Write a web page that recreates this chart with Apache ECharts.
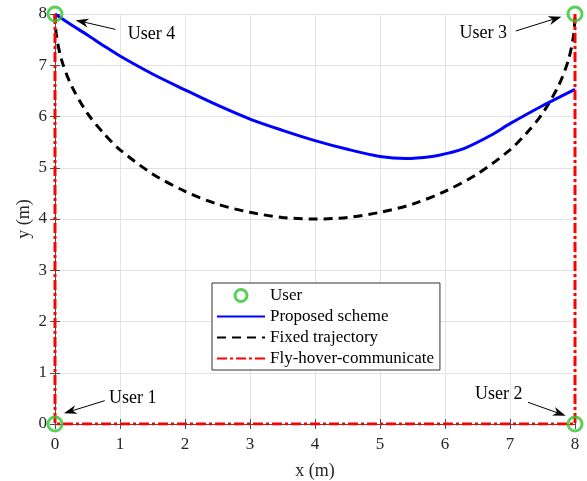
<!DOCTYPE html>
<html><head><meta charset="utf-8">
<script src="https://cdn.jsdelivr.net/npm/echarts@6/dist/echarts.min.js"></script>
<style>html,body{margin:0;padding:0;background:#fff}#c{width:587px;height:481px}</style>
</head><body><div id="c"></div>
<script>
// ---- data ----
const userX = [0, 8, 8, 0];
const userY = [0, 0, 8, 8];

const propX = [0, 0.25, 0.5, 0.75, 1, 1.5, 2, 2.5, 3, 3.5, 4, 4.5, 5, 5.4, 5.8, 6, 6.3, 6.7, 7, 7.5, 8];
const propY = [8, 7.79, 7.59, 7.38, 7.18, 6.83, 6.52, 6.22, 5.95, 5.73, 5.53, 5.36, 5.22, 5.18, 5.22, 5.27, 5.38, 5.63, 5.86, 6.21, 6.53];

const fixedX = [0, 0.02, 0.1, 0.25, 0.5, 0.75, 1, 1.5, 2, 2.5, 3, 3.5, 4, 4.5, 5, 5.5, 6, 6.5, 7, 7.25, 7.5, 7.75, 7.9, 7.98, 8];
const fixedY = [8, 7.60, 7.11, 6.61, 6.06, 5.67, 5.35, 4.88, 4.54, 4.29, 4.13, 4.03, 4.00, 4.03, 4.13, 4.29, 4.54, 4.88, 5.35, 5.67, 6.06, 6.61, 7.11, 7.60, 8];

const fhcX = [0, 0, 8, 8];
const fhcY = [8, 0, 0, 8];

const xTicks = [0, 1, 2, 3, 4, 5, 6, 7, 8];
const yTicks = [0, 1, 2, 3, 4, 5, 6, 7, 8];

const seriesNames = ['User', 'Proposed scheme', 'Fixed trajectory', 'Fly-hover-communicate'];

// annotation labels (data coordinates)
const annText = ['User 1', 'User 2', 'User 3', 'User 4'];
const annTextX = [0.831, 7.191, 6.954, 1.118];
const annTextY = [0.511, 0.576, 7.616, 7.60];
const annAlign = ['left', 'right', 'right', 'left'];
const annTailX = [0.765, 7.277, 7.088, 0.929];
const annTailY = [0.455, 0.423, 7.668, 7.70];
const annHeadX = [0.138, 7.857, 7.791, 0.318];
const annHeadY = [0.209, 0.162, 7.947, 7.88];

// ---- chart ----
const FONT = '"Liberation Serif", "Times New Roman", serif';
const TXT = '#262626';
const GREEN = '#2fc62f';
const zip = (a, b) => a.map((v, i) => [v, b[i]]);

const chart = echarts.init(document.getElementById('c'), null, {renderer: 'canvas'});

const axisCommon = {type: 'value', min: 0, max: 8, interval: 1};
const hidden = {itemStyle: {opacity: 0}};

chart.setOption({
  animation: false,
  backgroundColor: '#fff',
  grid: {left: 55, right: 12, top: 14, bottom: 57, containLabel: false, outerBoundsMode: 'none'},
  xAxis: [
    Object.assign({}, axisCommon, {
      position: 'bottom',
      name: 'x (m)', nameLocation: 'middle', nameGap: 38, nameMoveOverlap: false,
      nameTextStyle: {fontFamily: FONT, fontSize: 18, color: TXT},
      axisLine: {show: true, lineStyle: {color: '#4d4d4d', width: 1}},
      axisTick: {show: true, inside: true, length: 5, lineStyle: {color: '#4d4d4d'}},
      axisLabel: {fontFamily: FONT, fontSize: 17, color: TXT, margin: 12, formatter: v => xTicks.includes(v) ? String(v) : ''},
      splitLine: {show: true, lineStyle: {color: '#e3e3e3', width: 1}}
    }),
    Object.assign({}, axisCommon, {
      position: 'top',
      axisLine: {show: true, lineStyle: {color: '#4d4d4d', width: 1}},
      axisTick: {show: true, inside: true, length: 5, lineStyle: {color: '#4d4d4d'}},
      axisLabel: {show: false},
      splitLine: {show: false}
    })
  ],
  yAxis: [
    Object.assign({}, axisCommon, {
      position: 'left',
      name: 'y (m)', nameLocation: 'middle', nameGap: 22, nameRotate: 90, nameMoveOverlap: false,
      nameTextStyle: {fontFamily: FONT, fontSize: 18, color: TXT},
      axisLine: {show: true, lineStyle: {color: '#4d4d4d', width: 1}},
      axisTick: {show: true, inside: true, length: 5, lineStyle: {color: '#4d4d4d'}},
      axisLabel: {fontFamily: FONT, fontSize: 17, color: TXT, margin: 8, formatter: v => yTicks.includes(v) ? String(v) : ''},
      splitLine: {show: true, lineStyle: {color: '#e3e3e3', width: 1}}
    }),
    Object.assign({}, axisCommon, {
      position: 'right',
      axisLine: {show: true, lineStyle: {color: '#4d4d4d', width: 1}},
      axisTick: {show: true, inside: true, length: 5, lineStyle: {color: '#4d4d4d'}},
      axisLabel: {show: false},
      splitLine: {show: false}
    })
  ],
  legend: {
    show: true, orient: 'vertical', left: 212, top: 283,
    data: [
      {name: seriesNames[0], itemStyle: {color: 'rgba(0,0,0,0)', borderColor: GREEN, borderWidth: 3}},
      Object.assign({name: seriesNames[1]}, hidden),
      Object.assign({name: seriesNames[2]}, hidden),
      Object.assign({name: seriesNames[3]}, hidden)
    ],
    itemWidth: 48, itemHeight: 12, itemGap: 4,
    padding: [4, 6, 3, 4],
    borderColor: '#333', borderWidth: 1, backgroundColor: '#fff',
    textStyle: {fontFamily: FONT, fontSize: 17, color: '#000'}
  },
  series: [
    {
      name: seriesNames[0], type: 'scatter', data: zip(userX, userY),
      symbol: 'circle', symbolSize: 14, z: 10,
      itemStyle: {color: 'rgba(0,0,0,0)', borderColor: GREEN, borderWidth: 3}
    },
    {
      name: seriesNames[1], type: 'line', data: zip(propX, propY), smooth: 0.3,
      symbol: 'none', z: 5,
      lineStyle: {color: '#0000ff', width: 3}, itemStyle: {color: '#0000ff'}
    },
    {
      name: seriesNames[2], type: 'line', data: zip(fixedX, fixedY), smooth: 0.3,
      symbol: 'none', z: 4,
      lineStyle: {color: '#000', width: 3, type: [9, 6]}, itemStyle: {color: '#000'}
    },
    {
      name: seriesNames[3], type: 'line', data: zip(fhcX, fhcY),
      symbol: 'none', z: 6,
      lineStyle: {color: '#ff0000', width: 3, type: [10, 3, 3, 3]}, itemStyle: {color: '#ff0000'}
    }
  ]
});

// annotations: text + arrows, positioned from data coordinates
const g = [];
for (let i = 0; i < annText.length; i++) {
  const t = chart.convertToPixel({gridIndex: 0}, [annTextX[i], annTextY[i]]);
  const a = chart.convertToPixel({gridIndex: 0}, [annTailX[i], annTailY[i]]);
  const b = chart.convertToPixel({gridIndex: 0}, [annHeadX[i], annHeadY[i]]);
  g.push({
    type: 'text', z: 100,
    style: {x: t[0], y: t[1], text: annText[i], fill: '#000', font: '18px ' + FONT,
            textAlign: annAlign[i], textVerticalAlign: 'middle', verticalAlign: 'middle'}
  });
  const dx = b[0] - a[0], dy = b[1] - a[1];
  const L = Math.hypot(dx, dy), ux = dx / L, uy = dy / L, px = -uy, py = ux;
  const hl = 13, hw = 4.5, notch = 9;
  const base = [b[0] - ux * hl, b[1] - uy * hl];
  const nb = [b[0] - ux * notch, b[1] - uy * notch];
  g.push({
    type: 'line', z: 100,
    shape: {x1: a[0], y1: a[1], x2: nb[0], y2: nb[1]},
    style: {stroke: '#000', lineWidth: 1}
  });
  g.push({
    type: 'polygon', z: 100,
    shape: {points: [b, [base[0] + px * hw, base[1] + py * hw], nb, [base[0] - px * hw, base[1] - py * hw]]},
    style: {fill: '#000'}
  });
}
chart.setOption({graphic: g});
</script>
</body></html>
